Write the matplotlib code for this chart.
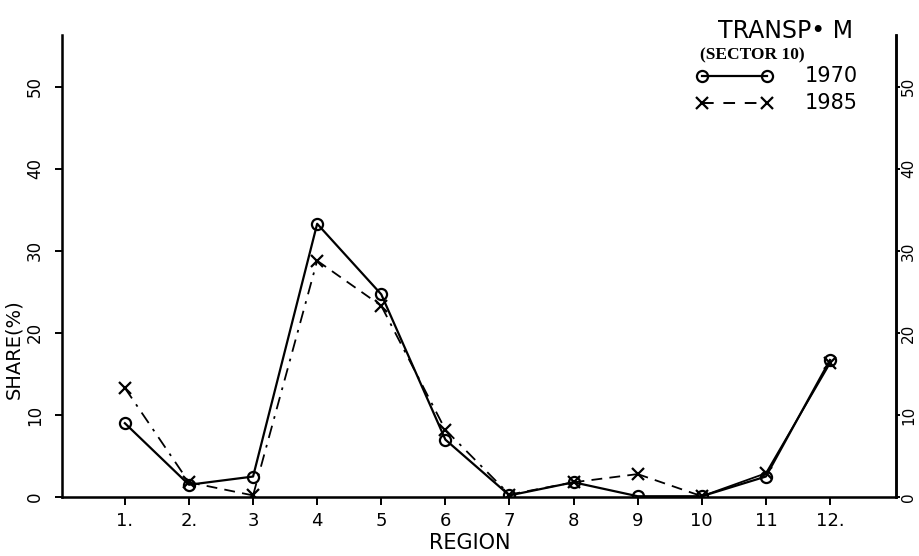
import numpy as np
import matplotlib
matplotlib.use("Agg")
import matplotlib.pyplot as plt

# Share of transport machinery output by region
regions = np.arange(1, 13)
region_labels = ["1.", "2.", "3", "4", "5", "6", "7", "8", "9", "10", "11", "12."]
share_1970 = [9.0, 1.5, 2.5, 33.3, 24.7, 7.0, 0.2, 1.8, 0.1, 0.1, 2.5, 16.7]
share_1985 = [13.3, 1.8, 0.2, 28.8, 23.3, 8.2, 0.3, 1.8, 2.8, 0.1, 2.9, 16.3]
y_ticks = [0, 10, 20, 30, 40, 50]

# line style of each 1985 segment (the plotter mixed dashes and dash-dots)
seg_styles = [(0, (7, 4, 1.5, 4)), (0, (6, 4)), (0, (7, 4, 1.5, 4)), (0, (6, 4)),
              (0, (7, 4, 1.5, 4)), (0, (7, 4, 1.5, 4)), (0, (6, 4)), (0, (6, 4)),
              (0, (6, 4)), "-", "-"]

plt.rcParams["font.family"] = ["DejaVu Sans"]

fig = plt.figure(figsize=(9.19, 5.56), dpi=100)
ax = fig.add_axes([0.0675, 0.106, 0.9075, 0.831])

ax.plot(regions, share_1970, color="black", lw=1.6, marker="o", ms=8,
        mfc="none", mew=1.6, zorder=3)
for i in range(len(regions) - 1):
    ax.plot(regions[i:i + 2], share_1985[i:i + 2], color="black", lw=1.3,
            linestyle=seg_styles[i], zorder=2)
ax.plot(regions, share_1985, linestyle="none", color="black", marker="x",
        ms=9, mew=1.6, zorder=2)

ax.set_xlim(0.02, 13.03)
ax.set_ylim(0, 56.3)
ax.spines["top"].set_visible(False)
for s in ["left", "right", "bottom"]:
    ax.spines[s].set_linewidth(1.8)

ax.set_xticks(regions)
ax.set_xticklabels(region_labels, fontsize=13)
ax.set_yticks(y_ticks)
ax.set_yticklabels([str(v) for v in y_ticks], rotation=90, va="center", fontsize=12)
ax.tick_params(axis="x", direction="out", length=6, width=1.4, pad=5)
ax.tick_params(axis="y", direction="out", length=5, width=1.4, pad=8)

# right-hand scale repeats the left one, set tight against the frame
ax2 = ax.twinx()
ax2.set_ylim(ax.get_ylim())
ax2.spines["top"].set_visible(False)
ax2.spines["right"].set_linewidth(1.8)
ax2.set_yticks(y_ticks)
ax2.set_yticklabels([str(v) for v in y_ticks], rotation=90, va="center", fontsize=11)
ax2.tick_params(axis="y", direction="out", length=3, width=1.4, pad=0.5)

ax.set_xlabel("REGION", fontsize=15)
ax.xaxis.set_label_coords(0.489, -0.078)
ax.set_ylabel("SHARE(%)", fontsize=14)
ax.yaxis.set_label_coords(-0.047, 0.32)

# title and hand-drawn style key
fig.text(718 / 919, 1 - 38 / 556, "TRANSP\u2022 M", fontsize=17, ha="left",
         va="baseline")
fig.text(700 / 919, 1 - 59 / 556, "(SECTOR 10)", fontsize=12.5, fontweight="bold",
         family=["Liberation Serif", "DejaVu Serif"], ha="left", va="baseline")

key_x = [702 / 919, 767 / 919]
fig.add_artist(plt.Line2D(key_x, [1 - 76 / 556] * 2, color="black", lw=1.6,
                          marker="o", ms=8, mfc="none", mew=1.6))
fig.add_artist(plt.Line2D(key_x, [1 - 103 / 556] * 2, color="black", lw=1.4,
                          linestyle=(0, (6, 5)), marker="x", ms=9, mew=1.6))
fig.text(805 / 919, 1 - 76 / 556, "1970", fontsize=15, va="center", ha="left")
fig.text(805 / 919, 1 - 103 / 556, "1985", fontsize=15, va="center", ha="left")

fig.savefig("out.png", dpi=100, facecolor="white")
